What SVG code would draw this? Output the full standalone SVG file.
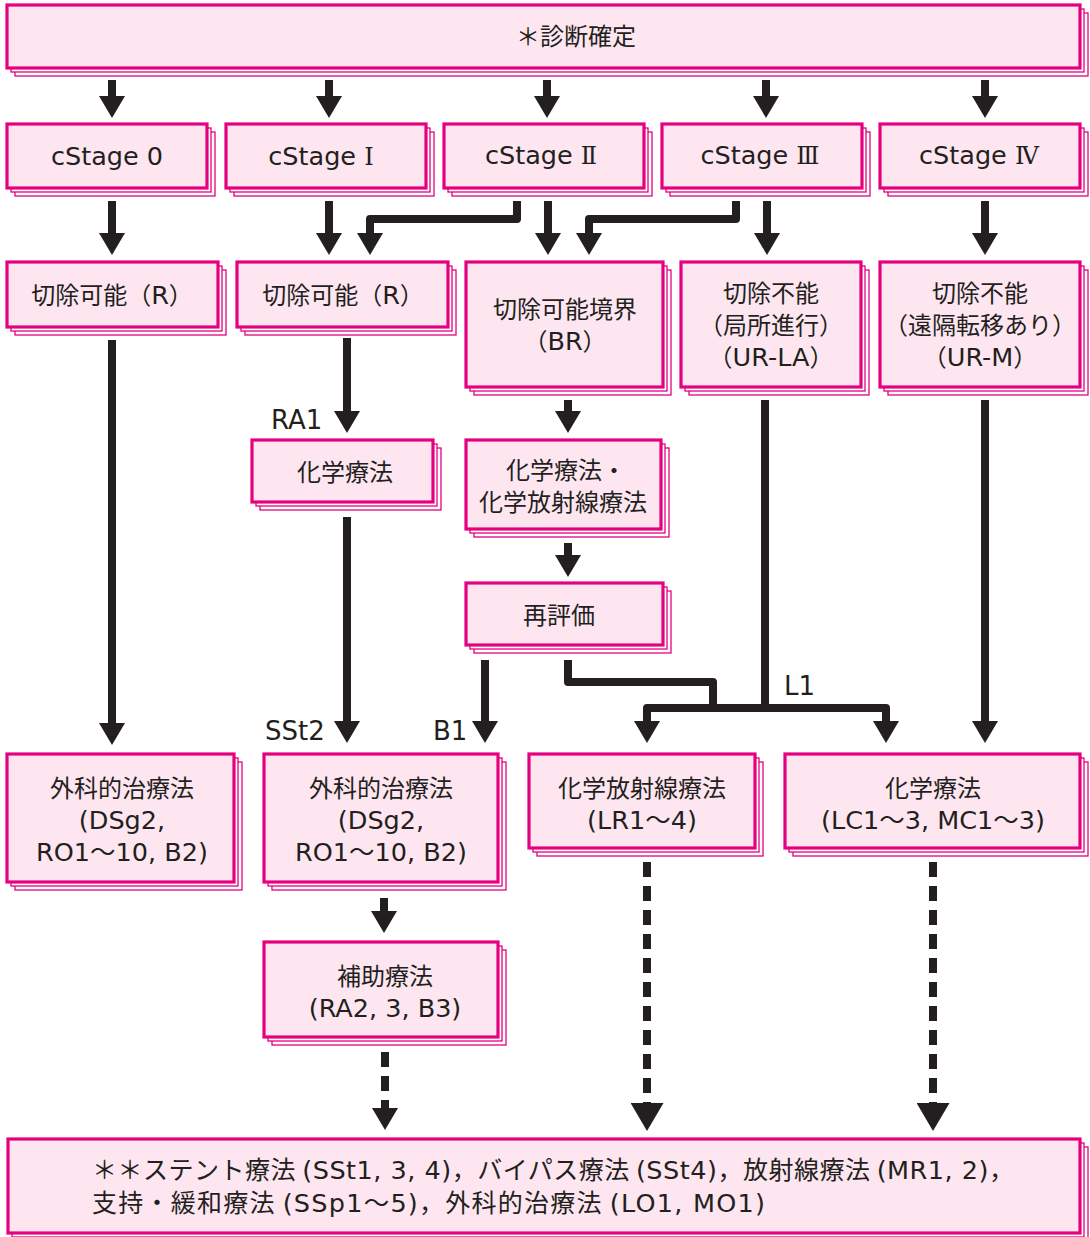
<svg xmlns="http://www.w3.org/2000/svg" width="1090" height="1237" viewBox="0 0 1090 1237">
<defs>
<style>
.sh{fill:#ffffff;stroke:#e4007f;stroke-width:1.3}
.m{fill:#fde6f0;stroke:#e4007f;stroke-width:3.2}
text{font-family:'Noto Sans CJK JP','Noto Sans',sans-serif;font-size:24px;fill:#231f20;text-anchor:middle}
.lat{font-family:'DejaVu Sans','Noto Sans CJK JP',sans-serif;font-size:25.5px}
.rn{font-family:'DejaVu Serif','Noto Sans CJK JP',serif}
.lbl{font-family:'DejaVu Sans','Noto Sans CJK JP',sans-serif;font-size:26px;text-anchor:start}
.ft{font-size:25px;text-anchor:start}
.ln{fill:none;stroke:#231f20;stroke-width:8;stroke-linejoin:round}
.ds{fill:none;stroke:#231f20;stroke-width:8;stroke-dasharray:15 9}
.ah{fill:#231f20}
</style>
<marker id="a" markerUnits="userSpaceOnUse" viewBox="0 0 22 26" refX="0" refY="13" markerWidth="22" markerHeight="26" orient="auto"><path d="M0,0 L22,13 L0,26 z" class="ah"/></marker>
<marker id="b" markerUnits="userSpaceOnUse" viewBox="0 0 28 33" refX="0" refY="16.5" markerWidth="28" markerHeight="33" orient="auto"><path d="M0,0 L28,16.5 L0,33 z" class="ah"/></marker>
</defs>

<g id="connectors">
<line class="ln" x1="112" y1="80" x2="112" y2="96" marker-end="url(#a)"/>
<line class="ln" x1="329" y1="80" x2="329" y2="96" marker-end="url(#a)"/>
<line class="ln" x1="547" y1="80" x2="547" y2="96" marker-end="url(#a)"/>
<line class="ln" x1="766" y1="80" x2="766" y2="96" marker-end="url(#a)"/>
<line class="ln" x1="985" y1="80" x2="985" y2="96" marker-end="url(#a)"/>

<line class="ln" x1="112" y1="201" x2="112" y2="233" marker-end="url(#a)"/>
<line class="ln" x1="329" y1="201" x2="329" y2="233" marker-end="url(#a)"/>
<path class="ln" d="M517,201 V219 H370 V233" marker-end="url(#a)"/>
<line class="ln" x1="548" y1="201" x2="548" y2="233" marker-end="url(#a)"/>
<path class="ln" d="M736,201 V219 H589 V233" marker-end="url(#a)"/>
<line class="ln" x1="767" y1="201" x2="767" y2="233" marker-end="url(#a)"/>
<line class="ln" x1="985" y1="201" x2="985" y2="233" marker-end="url(#a)"/>

<line class="ln" x1="112" y1="340" x2="112" y2="723" marker-end="url(#a)"/>
<line class="ln" x1="347" y1="338" x2="347" y2="411" marker-end="url(#a)"/>
<line class="ln" x1="568" y1="400" x2="568" y2="411" marker-end="url(#a)"/>
<line class="ln" x1="568" y1="543" x2="568" y2="555" marker-end="url(#a)"/>
<line class="ln" x1="347" y1="517" x2="347" y2="721" marker-end="url(#a)"/>
<line class="ln" x1="485" y1="660" x2="485" y2="721" marker-end="url(#a)"/>
<path class="ln" d="M568,660 V682 H713 V708"/>
<line class="ln" x1="765" y1="400" x2="765" y2="708"/>
<path class="ln" d="M765,708 H647 V721" marker-end="url(#a)"/>
<path class="ln" d="M765,708 H886 V721" marker-end="url(#a)"/>
<line class="ln" x1="985" y1="400" x2="985" y2="721" marker-end="url(#a)"/>

<line class="ln" x1="384" y1="898" x2="384" y2="911" marker-end="url(#a)"/>
<line class="ds" x1="385" y1="1052" x2="385" y2="1108" marker-end="url(#a)"/>
<line class="ds" x1="647" y1="862" x2="647" y2="1103" marker-end="url(#b)"/>
<line class="ds" x1="933" y1="862" x2="933" y2="1103" marker-end="url(#b)"/>

<text class="lbl" x="271" y="429">RA1</text>
<text class="lbl" x="265" y="740">SSt2</text>
<text class="lbl" x="433" y="740">B1</text>
<text class="lbl" x="784" y="695">L1</text>
</g>

<g id="n-diag">
<rect class="sh" x="15" y="13" width="1073" height="63"/><rect class="sh" x="11" y="9" width="1073" height="63"/><rect class="m" x="7" y="5" width="1073" height="63"/>
<text x="576" y="45">＊診断確定</text>
</g>

<g id="n-s0">
<rect class="sh" x="15" y="132" width="200" height="64"/><rect class="sh" x="11" y="128" width="200" height="64"/><rect class="m" x="7" y="124" width="200" height="64"/>
<text x="107" y="165" class="lat">cStage 0</text>
</g>
<g id="n-s1">
<rect class="sh" x="234" y="132" width="200" height="64"/><rect class="sh" x="230" y="128" width="200" height="64"/><rect class="m" x="226" y="124" width="200" height="64"/>
<text x="321" y="165"><tspan class="lat">cStage </tspan><tspan class="rn">Ⅰ</tspan></text>
</g>
<g id="n-s2">
<rect class="sh" x="452" y="132" width="200" height="64"/><rect class="sh" x="448" y="128" width="200" height="64"/><rect class="m" x="444" y="124" width="200" height="64"/>
<text x="541" y="164"><tspan class="lat">cStage </tspan><tspan class="rn">Ⅱ</tspan></text>
</g>
<g id="n-s3">
<rect class="sh" x="670" y="132" width="200" height="64"/><rect class="sh" x="666" y="128" width="200" height="64"/><rect class="m" x="662" y="124" width="200" height="64"/>
<text x="760" y="164"><tspan class="lat">cStage </tspan><tspan class="rn">Ⅲ</tspan></text>
</g>
<g id="n-s4">
<rect class="sh" x="888" y="132" width="200" height="64"/><rect class="sh" x="884" y="128" width="200" height="64"/><rect class="m" x="880" y="124" width="200" height="64"/>
<text x="979" y="164"><tspan class="lat">cStage </tspan><tspan class="rn">Ⅳ</tspan></text>
</g>

<g id="n-r0">
<rect class="sh" x="15" y="270" width="211" height="65"/><rect class="sh" x="11" y="266" width="211" height="65"/><rect class="m" x="7" y="262" width="211" height="65"/>
<text x="112" y="304">切除可能（<tspan class="lat">R</tspan>）</text>
</g>
<g id="n-r1">
<rect class="sh" x="245" y="270" width="211" height="65"/><rect class="sh" x="241" y="266" width="211" height="65"/><rect class="m" x="237" y="262" width="211" height="65"/>
<text x="343" y="304">切除可能（<tspan class="lat">R</tspan>）</text>
</g>
<g id="n-br">
<rect class="sh" x="474" y="270" width="197" height="125"/><rect class="sh" x="470" y="266" width="197" height="125"/><rect class="m" x="466" y="262" width="197" height="125"/>
<text x="565" y="318">切除可能境界</text>
<text x="565" y="350">（<tspan class="lat">BR</tspan>）</text>
</g>
<g id="n-urla">
<rect class="sh" x="689" y="270" width="180" height="125"/><rect class="sh" x="685" y="266" width="180" height="125"/><rect class="m" x="681" y="262" width="180" height="125"/>
<text x="771" y="302">切除不能</text>
<text x="771" y="334">（局所進行）</text>
<text x="771" y="366">（<tspan class="lat">UR-LA</tspan>）</text>
</g>
<g id="n-urm">
<rect class="sh" x="888" y="270" width="200" height="125"/><rect class="sh" x="884" y="266" width="200" height="125"/><rect class="m" x="880" y="262" width="200" height="125"/>
<text x="980" y="302">切除不能</text>
<text x="980" y="334">（遠隔転移あり）</text>
<text x="980" y="366">（<tspan class="lat">UR-M</tspan>）</text>
</g>

<g id="n-chem1">
<rect class="sh" x="260" y="448" width="181" height="62"/><rect class="sh" x="256" y="444" width="181" height="62"/><rect class="m" x="252" y="440" width="181" height="62"/>
<text x="345" y="481">化学療法</text>
</g>
<g id="n-chemrad1">
<rect class="sh" x="474" y="448" width="195" height="89"/><rect class="sh" x="470" y="444" width="195" height="89"/><rect class="m" x="466" y="440" width="195" height="89"/>
<text x="566" y="479">化学療法・</text>
<text x="563" y="511">化学放射線療法</text>
</g>
<g id="n-reeval">
<rect class="sh" x="474" y="591" width="197" height="62"/><rect class="sh" x="470" y="587" width="197" height="62"/><rect class="m" x="466" y="583" width="197" height="62"/>
<text x="559" y="624">再評価</text>
</g>

<g id="n-surg1">
<rect class="sh" x="15" y="762" width="227" height="128"/><rect class="sh" x="11" y="758" width="227" height="128"/><rect class="m" x="7" y="754" width="227" height="128"/>
<text x="122" y="797">外科的治療法</text>
<text x="122" y="829" class="lat">(DSg2,</text>
<text x="122" y="861" class="lat">RO1〜10, B2)</text>
</g>
<g id="n-surg2">
<rect class="sh" x="272" y="762" width="234" height="128"/><rect class="sh" x="268" y="758" width="234" height="128"/><rect class="m" x="264" y="754" width="234" height="128"/>
<text x="381" y="797">外科的治療法</text>
<text x="381" y="829" class="lat">(DSg2,</text>
<text x="381" y="861" class="lat">RO1〜10, B2)</text>
</g>
<g id="n-chemrad2">
<rect class="sh" x="537" y="762" width="226" height="94"/><rect class="sh" x="533" y="758" width="226" height="94"/><rect class="m" x="529" y="754" width="226" height="94"/>
<text x="642" y="797">化学放射線療法</text>
<text x="642" y="829" class="lat">(LR1〜4)</text>
</g>
<g id="n-chem2">
<rect class="sh" x="793" y="762" width="295" height="94"/><rect class="sh" x="789" y="758" width="295" height="94"/><rect class="m" x="785" y="754" width="295" height="94"/>
<text x="933" y="797">化学療法</text>
<text x="933" y="829" class="lat">(LC1〜3, MC1〜3)</text>
</g>
<g id="n-adj">
<rect class="sh" x="272" y="950" width="234" height="95"/><rect class="sh" x="268" y="946" width="234" height="95"/><rect class="m" x="264" y="942" width="234" height="95"/>
<text x="385" y="985">補助療法</text>
<text x="385" y="1017" class="lat">(RA2, 3, B3)</text>
</g>

<g id="n-other">
<rect class="sh" x="16" y="1147" width="1072" height="94"/><rect class="sh" x="12" y="1143" width="1072" height="94"/><rect class="m" x="8" y="1139" width="1072" height="94"/>
<text class="ft" x="92" y="1179" textLength="922" lengthAdjust="spacing">＊＊ステント療法 <tspan class="lat">(SSt1, 3, 4)</tspan>，バイパス療法 <tspan class="lat">(SSt4)</tspan>，放射線療法 <tspan class="lat">(MR1, 2)</tspan>，</text>
<text class="ft" x="92" y="1212" textLength="673" lengthAdjust="spacing">支持・緩和療法 <tspan class="lat">(SSp1〜5)</tspan>，外科的治療法 <tspan class="lat">(LO1, MO1)</tspan></text>
</g>
</svg>
